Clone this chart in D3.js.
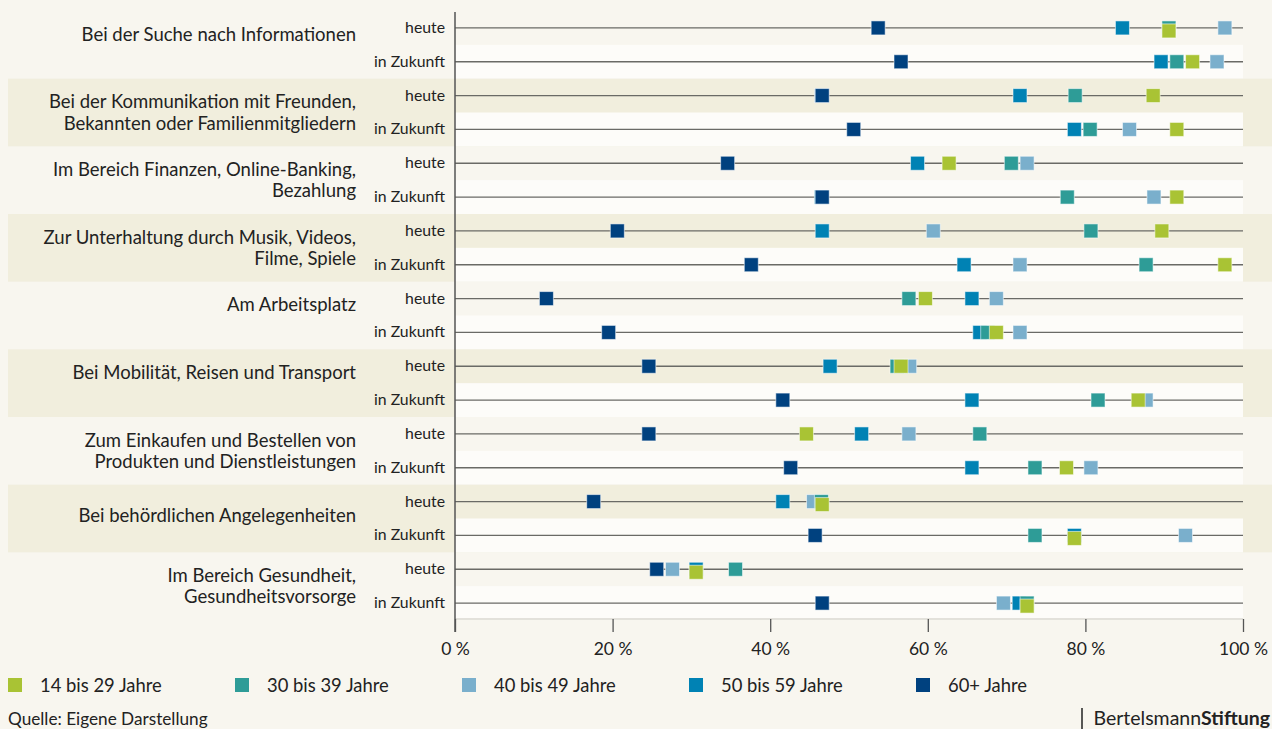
<!DOCTYPE html>
<html>
<head>
<meta charset="utf-8">
<script src="https://cdn.jsdelivr.net/npm/d3@7"></script>
<style>
  body { margin: 0; background: #f8f6ef; }
  svg { display: block; font-family: Lato, "Open Sans", sans-serif; }
</style>
</head>
<body>
<svg id="chart" width="1272" height="729"></svg>
<script>
// DATA
// ========================================================================
var categories = [
  ["Bei der Suche nach Informationen"],
  ["Bei der Kommunikation mit Freunden,", "Bekannten oder Familienmitgliedern"],
  ["Im Bereich Finanzen, Online-Banking,", "Bezahlung"],
  ["Zur Unterhaltung durch Musik, Videos,", "Filme, Spiele"],
  ["Am Arbeitsplatz"],
  ["Bei Mobilität, Reisen und Transport"],
  ["Zum Einkaufen und Bestellen von", "Produkten und Dienstleistungen"],
  ["Bei behördlichen Angelegenheiten"],
  ["Im Bereich Gesundheit,", "Gesundheitsvorsorge"]
];
var periods = ["heute", "in Zukunft"];

var series = ["14 bis 29 Jahre", "30 bis 39 Jahre", "40 bis 49 Jahre", "50 bis 59 Jahre", "60+ Jahre"];
var seriesColors = ["#a9c334", "#2e9c97", "#7aafcc", "#0082b4", "#00417f"];

// one value per row: group 1 heute, group 1 in Zukunft, group 2 heute, ...
var age14_29 = [90.6, 93.6, 88.6, 91.6, 62.7, 91.6, 89.7, 97.7, 59.7, 68.7, 56.6, 86.7, 44.6, 77.6, 46.6, 78.6, 30.6, 72.6];
var age30_39 = [90.6, 91.6, 78.7, 80.6, 70.6, 77.7, 80.7, 87.7, 57.6, 67.6, 56.1, 81.6, 66.6, 73.6, 46.5, 73.6, 35.6, 72.6];
var age40_49 = [97.7, 96.7, 46.5, 85.6, 72.6, 88.7, 60.7, 71.7, 68.7, 71.7, 57.7, 87.7, 57.6, 80.7, 45.5, 92.7, 27.6, 69.6];
var age50_59 = [84.7, 89.6, 71.7, 78.6, 58.7, 46.5, 46.6, 64.6, 65.6, 66.6, 47.6, 65.6, 51.6, 65.6, 41.6, 78.6, 30.6, 71.6];
var age60plus = [53.7, 56.6, 46.6, 50.6, 34.6, 46.6, 20.6, 37.6, 11.6, 19.5, 24.6, 41.6, 24.6, 42.6, 17.6, 45.7, 25.6, 46.6];

var seriesValues = [age14_29, age30_39, age40_49, age50_59, age60plus];
var drawOrder = [2, 3, 1, 0, 4];   // which series is painted over which

var tickValues = [0, 20, 40, 60, 80, 100];
// ========================================================================


var svg = d3.select("#chart");
var W = 1272;

var x = d3.scaleLinear().domain([0, 100]).range([455, 1243]);
var rowIds = d3.range(categories.length * periods.length);
var y = d3.scaleBand().domain(rowIds).range([11, 620]).paddingInner(0).paddingOuter(0);
var rowCenter = function (i) { return y(i) + y.bandwidth() / 2; };

var labelNudge = {7: 8};   // the single-line label of group 8 sits lower

// background bands -------------------------------------------------------
var bands = svg.append("g");
categories.forEach(function (c, g) {
  if (g % 2 == 1) {
    bands.append("rect")
      .attr("x", 8).attr("width", W - 8)
      .attr("y", y(2 * g)).attr("height", y.bandwidth() * 2)
      .style("fill", "#f1eedd");
  }
  bands.append("rect")
    .attr("x", x(0)).attr("width", x(100) - x(0))
    .attr("y", y(2 * g + 1)).attr("height", y.bandwidth())
    .style("fill", "#fdfcf9");
});

// row lines ----------------------------------------------------------------
svg.append("g").selectAll("line")
  .data(rowIds).enter()
  .append("line")
    .attr("x1", x(0)).attr("x2", x(100))
    .attr("y1", rowCenter).attr("y2", rowCenter)
    .style("stroke", "#6a6a66").style("stroke-width", 1.4);

// axis ---------------------------------------------------------------------
var axisY = 619;
svg.append("line")
  .attr("x1", x(0)).attr("x2", x(100)).attr("y1", axisY).attr("y2", axisY)
  .style("stroke", "#c9c7bd").style("stroke-width", 1);

var xAxis = d3.axisBottom(x)
  .tickValues(tickValues)
  .tickSize(13)
  .tickPadding(11)
  .tickFormat(function (d) { return d + " %"; });

var axisG = svg.append("g")
  .attr("transform", "translate(0," + axisY + ")")
  .call(xAxis);
axisG.select(".domain").remove();
axisG.selectAll(".tick line").style("stroke", "#555").style("stroke-width", 1.3);
axisG.selectAll(".tick text")
  .style("font-family", "Lato, sans-serif")
  .style("font-size", "17.5px")
  .style("fill", "#222");

svg.append("line")
  .attr("x1", x(0)).attr("x2", x(0)).attr("y1", 12).attr("y2", axisY + 13)
  .style("stroke", "#555").style("stroke-width", 1.5);

// labels -------------------------------------------------------------------
var lineH = 21.5;
categories.forEach(function (lines, g) {
  var mid = (rowCenter(2 * g) + rowCenter(2 * g + 1)) / 2;
  var top = mid - lineH / 2 + (labelNudge[g] || 0);
  var t = svg.append("text")
    .attr("text-anchor", "end")
    .style("font-size", "18.5px")
    .style("fill", "#222");
  lines.forEach(function (l, k) {
    t.append("tspan")
      .attr("x", 356)
      .attr("y", top + k * lineH + 6.5)
      .text(l);
  });
});

svg.append("g").selectAll("text")
  .data(rowIds).enter()
  .append("text")
    .attr("x", 445)
    .attr("y", function (d) { return rowCenter(d) + 5; })
    .attr("text-anchor", "end")
    .style("font-size", "15.8px")
    .style("fill", "#222")
    .text(function (d) { return periods[d % 2]; });

// markers ------------------------------------------------------------------
var size = 14;
var markerG = svg.append("g");
drawOrder.forEach(function (s) {
  markerG.append("g").selectAll("rect")
    .data(seriesValues[s]).enter()
    .append("rect")
      .attr("x", function (d) { return x(d) - size / 2; })
      .attr("y", function (d, i) {
        var shift = 0;
        if (s == 0) {
          // the youngest group is pushed down a little where it ties with another
          seriesValues.forEach(function (o, j) {
            if (j != 0 && j != 4 && Math.abs(o[i] - d) < 0.3) shift = 3;
          });
        }
        return rowCenter(i) - size / 2 + shift;
      })
      .attr("width", size).attr("height", size)
      .style("fill", seriesColors[s])
      .style("stroke", "rgba(255,255,255,0.55)")
      .style("stroke-width", 1);
});

// legend -------------------------------------------------------------------
var legend = svg.append("g").attr("transform", "translate(8,678)");
var legendItem = legend.selectAll("g")
  .data(series).enter()
  .append("g")
    .attr("transform", function (d, i) { return "translate(" + (i * 227) + ",0)"; });
legendItem.append("rect")
  .attr("width", 14).attr("height", 14)
  .style("fill", function (d, i) { return seriesColors[i]; });
legendItem.append("text")
  .attr("x", 32).attr("y", 13.5)
  .style("font-size", "18.4px")
  .style("fill", "#222")
  .text(function (d) { return d; });

// footer -------------------------------------------------------------------
svg.append("text")
  .attr("x", 8).attr("y", 725)
  .style("font-size", "17.2px")
  .style("fill", "#222")
  .text("Quelle: Eigene Darstellung");

svg.append("line")
  .attr("x1", 1082).attr("x2", 1082).attr("y1", 708).attr("y2", 729)
  .style("stroke", "#222").style("stroke-width", 1.5);
var logo = svg.append("text")
  .attr("x", 1270).attr("y", 725)
  .attr("text-anchor", "end")
  .style("font-size", "19.5px")
  .style("fill", "#222");
logo.append("tspan").text("Bertelsmann");
logo.append("tspan").style("font-weight", "bold").text("Stiftung");
</script>
</body>
</html>
